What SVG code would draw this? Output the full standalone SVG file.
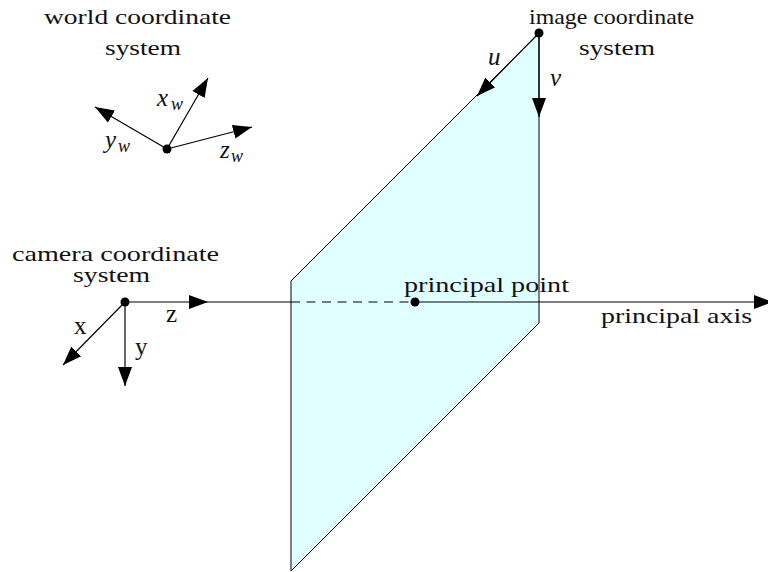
<svg xmlns="http://www.w3.org/2000/svg" width="768" height="572" viewBox="0 0 768 572">
<style>
text{font-family:"Liberation Serif","Times New Roman",serif;font-size:22px;fill:#111}
.m{font-style:italic;font-size:25px}
.s{font-size:18px;font-style:italic}
.u{font-size:25px}
.l{stroke:#000;stroke-width:1.2;fill:none}
.h{fill:#000;stroke:none}
</style>
<defs>
<marker id="a" markerUnits="userSpaceOnUse" markerWidth="20" markerHeight="18" refX="19" refY="9" orient="auto"><path class="h" d="M0 2 19 9 0 16Z"/></marker>
</defs>
<g id="image-plane"><polygon points="291,281 539,33 539,323 291,571" fill="#e0ffff" stroke="#000" stroke-width="1"/></g>
<g id="connectors">
<line class="l" x1="167" y1="149" x2="208" y2="78" marker-end="url(#a)"/>
<line class="l" x1="167" y1="149" x2="95" y2="107" marker-end="url(#a)"/>
<line class="l" x1="167" y1="149" x2="252" y2="127" marker-end="url(#a)"/>
<line class="l" x1="125" y1="302" x2="208" y2="302" marker-end="url(#a)"/>
<line class="l" x1="208" y1="302" x2="291" y2="302"/>
<line class="l" x1="291" y1="302" x2="415" y2="302" stroke-dasharray="9 6.5"/>
<line class="l" x1="415" y1="302" x2="773" y2="302" marker-end="url(#a)"/>
<line class="l" x1="125" y1="302" x2="125" y2="386" marker-end="url(#a)"/>
<line class="l" x1="125" y1="302" x2="63" y2="365" marker-end="url(#a)"/>
<line class="l" x1="539" y1="33" x2="477" y2="96" marker-end="url(#a)"/>
<line class="l" x1="539" y1="33" x2="539" y2="117" marker-end="url(#a)"/>
</g>
<g id="world-origin"><circle cx="167" cy="149" r="4.5"/>
<text x="44" y="24" textLength="187" lengthAdjust="spacingAndGlyphs">world coordinate</text>
<text x="105" y="55" textLength="76" lengthAdjust="spacingAndGlyphs">system</text>
<text class="m" x="157" y="106">x</text><text class="s" x="171" y="110">w</text>
<text class="m" x="105" y="148">y</text><text class="s" x="118" y="152">w</text>
<text class="m" x="220" y="158">z</text><text class="s" x="231" y="162">w</text></g>
<g id="camera-origin"><circle cx="125" cy="302" r="4.5"/>
<text><tspan x="12" y="261" textLength="207" lengthAdjust="spacingAndGlyphs">camera coordinate</tspan><tspan x="73" y="282" textLength="77" lengthAdjust="spacingAndGlyphs">system</tspan></text>
<text class="u" x="74" y="334">x</text><text class="u" x="135" y="355">y</text><text class="u" x="166" y="322">z</text></g>
<g id="image-origin"><circle cx="539" cy="33" r="4.5"/>
<text x="529" y="24" textLength="165" lengthAdjust="spacingAndGlyphs">image coordinate</text>
<text x="579" y="55" textLength="76" lengthAdjust="spacingAndGlyphs">system</text>
<text class="m" x="488" y="65">u</text><text class="m" x="550" y="86">v</text></g>
<g id="principal-point"><circle cx="415" cy="302" r="4.5"/>
<text x="404" y="292" textLength="165" lengthAdjust="spacingAndGlyphs">principal point</text></g>
<g id="principal-axis"><text x="601" y="323" textLength="151" lengthAdjust="spacingAndGlyphs">principal axis</text></g>
</svg>
